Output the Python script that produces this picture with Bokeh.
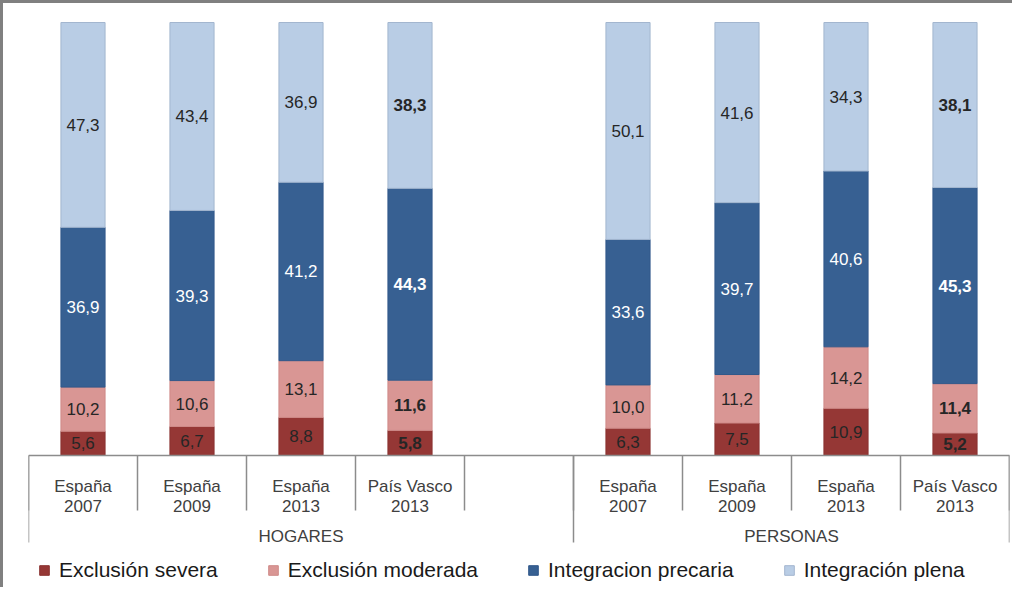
import numpy as np
from bokeh.plotting import figure
from bokeh.models import ColumnDataSource, Legend, LegendItem, Range1d
from bokeh.embed import file_html
from bokeh.resources import INLINE
from bokeh.core.properties import value

# ---------------- data ----------------
groups = ["HOGARES", "PERSONAS"]
cat_line1 = ["España", "España", "España", "País Vasco"]
cat_line2 = ["2007", "2009", "2013", "2013"]
series = ["Exclusión severa", "Exclusión moderada", "Integracion precaria", "Integración plena"]

hogares_severa = [5.6, 6.7, 8.8, 5.8]
hogares_moderada = [10.2, 10.6, 13.1, 11.6]
hogares_precaria = [36.9, 39.3, 41.2, 44.3]
hogares_plena = [47.3, 43.4, 36.9, 38.3]

personas_severa = [6.3, 7.5, 10.9, 5.2]
personas_moderada = [10.0, 11.2, 14.2, 11.4]
personas_precaria = [33.6, 39.7, 40.6, 45.3]
personas_plena = [50.1, 41.6, 34.3, 38.1]

bold_category = "País Vasco"  # values for this category are shown in bold

# ---------------- styles ----------------
colors = ["#953735", "#D99694", "#376092", "#B9CDE5"]
outline = ["#8a3230", "#cf8a88", "#31588a", "#a3b6cf"]
label_colors = ["#262626", "#262626", "#ffffff", "#262626"]
FONT = "Liberation Sans"
AXIS_GRAY = "#8c8c8c"

group_data = [
    [hogares_severa, hogares_moderada, hogares_precaria, hogares_plena],
    [personas_severa, personas_moderada, personas_precaria, personas_plena],
]
group_slots = [len(cat_line1) + 1, len(cat_line1)]  # empty slot after HOGARES
slot_start = np.concatenate([[0], np.cumsum(group_slots)[:-1]])
n_slots = int(sum(group_slots))

# ---------------- geometry ----------------
W, H = 1012, 587
MB_TOP, MB_BOTTOM = 11, 0
frame_h = H - MB_TOP - MB_BOTTOM
PX = 4.33  # pixels per percentage point
Y1 = 100 + 8 / PX
Y0 = Y1 - frame_h / PX


def below(px):
    return -px / PX


p = figure(width=W, height=H, x_range=Range1d(0, n_slots), y_range=Range1d(Y0, Y1),
           output_backend="svg", toolbar_location=None,
           min_border_left=25, min_border_right=6, min_border_top=MB_TOP,
           min_border_bottom=MB_BOTTOM)
p.axis.visible = False
p.grid.visible = False
p.outline_line_color = None
p.background_fill_color = "white"
p.border_fill_color = "white"
p.styles = {"border-left": "3px solid #808080", "border-top": "3px solid #808080"}

# ---------------- bars ----------------
renderers = []
for k, name in enumerate(series):
    xs, bottoms, tops, labels, bold = [], [], [], [], []
    for g, data in enumerate(group_data):
        arr = np.array(data)
        cum = np.cumsum(arr, axis=0)
        for i in range(len(cat_line1)):
            xs.append(slot_start[g] + i + 0.5)
            b = cum[k - 1][i] if k > 0 else 0.0
            bottoms.append(b)
            tops.append(cum[k][i])
            labels.append(f"{arr[k][i]:.1f}".replace(".", ","))
            bold.append(cat_line1[i] == bold_category)
    src = ColumnDataSource(dict(x=xs, bottom=bottoms, top=tops, label=labels,
                                ly=[(a + b) / 2 for a, b in zip(bottoms, tops)]))
    r = p.vbar(x="x", bottom="bottom", top="top", width=0.405, source=src,
               fill_color=colors[k], line_color=outline[k], line_width=1)
    renderers.append(r)
    idx_n = [j for j, bb in enumerate(bold) if not bb]
    idx_b = [j for j, bb in enumerate(bold) if bb]
    for idx, style in ((idx_n, "normal"), (idx_b, "bold")):
        s = ColumnDataSource(dict(x=[xs[j] for j in idx],
                                  y=[(bottoms[j] + tops[j]) / 2 for j in idx],
                                  t=[labels[j] for j in idx]))
        p.text(x="x", y="y", text="t", source=s, text_align="center",
               text_baseline="middle", text_font=value(FONT),
               text_font_size="17px", text_font_style=style,
               text_color=label_colors[k])

# ---------------- category axis ----------------
p.segment(x0=[0], y0=[0], x1=[n_slots + 0.03], y1=[0], line_color=AXIS_GRAY, line_width=1.5)
bounds = np.arange(n_slots + 1)
p.segment(x0=bounds, y0=[0] * len(bounds), x1=bounds, y1=[below(55)] * len(bounds),
          line_color=AXIS_GRAY, line_width=1.5)
gb = list(slot_start) + [n_slots]
p.segment(x0=gb, y0=[0] * len(gb), x1=gb, y1=[below(87)] * len(gb),
          line_color=AXIS_GRAY, line_width=1.5)

cx, l1, l2 = [], [], []
for g in range(len(groups)):
    for i in range(len(cat_line1)):
        cx.append(slot_start[g] + i + 0.5)
        l1.append(cat_line1[i])
        l2.append(cat_line2[i])
p.text(x=cx, y=[below(31)] * len(cx), text=l1, text_align="center",
       text_baseline="alphabetic", text_font=value(FONT), text_font_size="17px",
       text_color="#404040")
p.text(x=cx, y=[below(50)] * len(cx), text=l2, text_align="center",
       text_baseline="alphabetic", text_font=value(FONT), text_font_size="17px",
       text_color="#404040")

gx = [slot_start[g] + group_slots[g] / 2 for g in range(len(groups))]
p.text(x=gx, y=[below(81)] * len(gx), text=groups, text_align="center",
       text_baseline="alphabetic", text_font=value(FONT), text_font_size="17px",
       text_color="#404040")

# ---------------- legend ----------------
legend = Legend(items=[LegendItem(label=s, renderers=[r]) for s, r in zip(series, renderers)],
                orientation="horizontal", location=(10, 8),
                label_text_font=FONT, label_text_font_size="21px", label_text_color="#1a1a1a",
                glyph_width=12, glyph_height=12, spacing=49, label_standoff=9,
                padding=0, margin=0, background_fill_alpha=0, border_line_color=None)
p.add_layout(legend)

open("out.html", "w").write(file_html(p, INLINE))
